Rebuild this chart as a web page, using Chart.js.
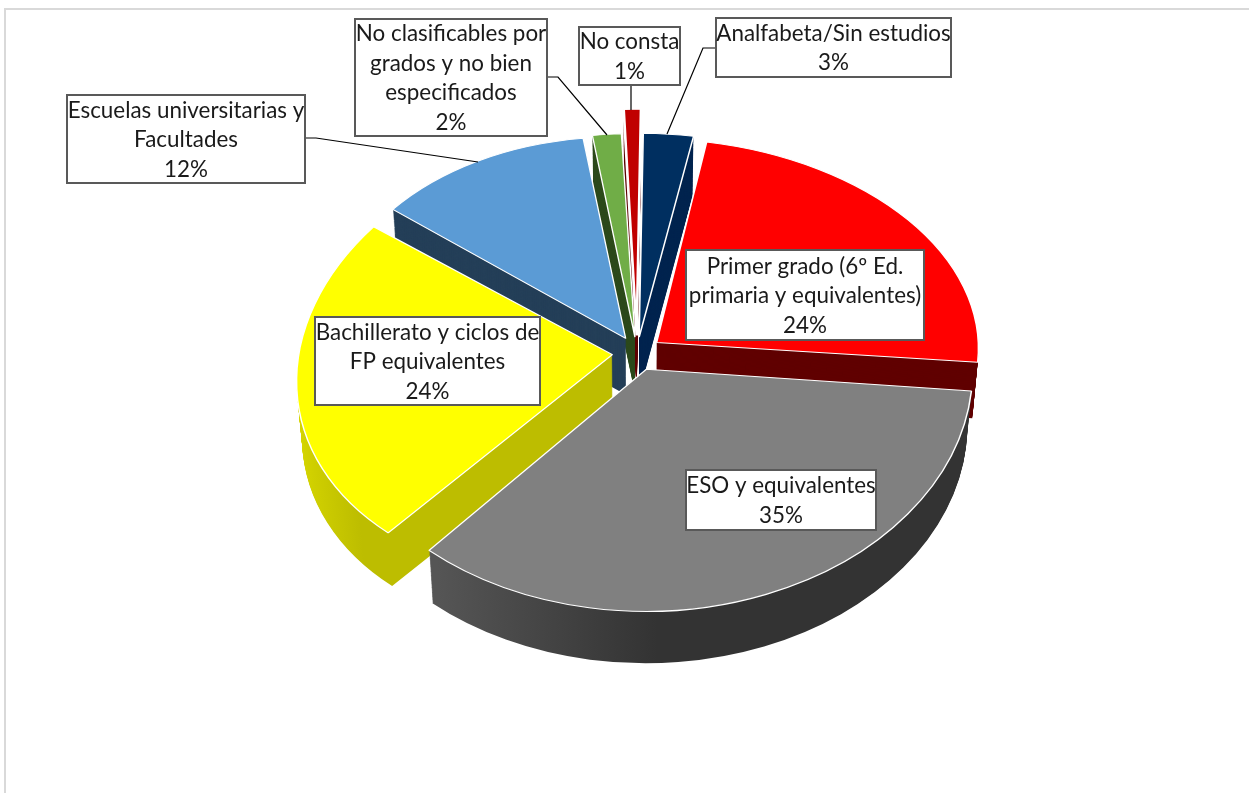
<!DOCTYPE html>
<html>
<head>
<meta charset="utf-8">
<style>
html, body { margin: 0; padding: 0; background: #fff; overflow: hidden; }
</style>
<script src="https://cdn.jsdelivr.net/npm/chart.js@4"></script>
</head>
<body>
<canvas id="pie" width="1249" height="793"></canvas>
<script>
const categories = [
    "Analfabeta/Sin estudios",
    "Primer grado (6º Ed. primaria y equivalentes)",
    "ESO y equivalentes",
    "Bachillerato y ciclos de FP equivalentes",
    "Escuelas universitarias y Facultades",
    "No clasificables por grados y no bien especificados",
    "No consta"
];
const values = [2.6, 23.6, 35.2, 23.8, 12.2, 1.8, 0.8];
const topColors = ["#002f60", "#ff0000", "#808080", "#ffff00", "#5b9bd5", "#70ad47", "#c00000"];
const wallColors = ["#00244f", "#600000", "#333333", "#bdbd00", "#243f58", "#2d4a1c", "#5f0000"];

// view of each slice on the tilted plate (x scale, x shear, y shear, y scale), stands in for perspective
const views = [
    [1.03, 0.016, 0, 0.598],
    [1.005, 0.025, 0.003, 0.637],
    [1.005, 0.004, -0.004, 0.745],
    [0.985, -0.055, -0.044, 0.71],
    [0.905, -0.005, 0.02, 0.615],
    [0.92, 0, 0, 0.595],
    [1.78, -0.001, 0, 0.658]
];

const labelLines = [
    ["Analfabeta/Sin estudios"],
    ["Primer grado (6º Ed.", "primaria y equivalentes)"],
    ["ESO y equivalentes"],
    ["Bachillerato y ciclos de", "FP equivalentes"],
    ["Escuelas universitarias y", "Facultades"],
    ["No clasificables por", "grados y no bien", "especificados"],
    ["No consta"]
];
// x, y, w, h of each label box
const labelBoxes = [
    [716, 18, 235, 59],
    [686, 250, 238, 90],
    [686, 470, 190, 60],
    [315, 317, 225, 88],
    [67, 95, 238, 88],
    [355, 19, 192, 117],
    [579, 27, 101, 58]
];
const leaders = [
    [[716, 48], [703, 48], [667, 134]],
    [],
    [],
    [],
    [[305, 138], [316, 138], [478, 162]],
    [[547, 77], [558, 77], [607, 135]],
    [[631, 85], [631, 110]]
];

const pieX = 637, pieY = 352, depth = 56;
const wallOrder = [0, 6, 5, 4, 1, 3, 2];

const total = values.reduce((a, b) => a + b, 0);

function placeSlice(ctx, arc, i, drop) {
    const v = views[i];
    const shrink = 1 - 0.016 * drop / depth;
    ctx.translate(pieX, pieY + drop);
    ctx.scale(shrink, shrink);
    ctx.transform(v[0], v[2], v[1], v[3], 0, 0);
    ctx.translate(-arc.x, -arc.y);
}

function wallFill(ctx, arc, i) {
    if (i === 2) {
        const g = ctx.createLinearGradient(arc.x - 210, 0, arc.x + 10, 0);
        g.addColorStop(0, "#555555");
        g.addColorStop(1, "#333333");
        return g;
    }
    if (i === 3) {
        const g = ctx.createLinearGradient(arc.x - 340, 0, arc.x - 245, 0);
        g.addColorStop(0, "#dcdc00");
        g.addColorStop(1, "#bdbd00");
        return g;
    }
    return wallColors[i];
}

const pie3d = {
    id: 'pie3d',
    beforeDraw(chart) {
        const ctx = chart.ctx;
        ctx.save();
        ctx.strokeStyle = "#d9d9d9";
        ctx.lineWidth = 2;
        ctx.beginPath();
        ctx.moveTo(5, 793);
        ctx.lineTo(5, 9);
        ctx.lineTo(1249, 9);
        ctx.stroke();
        ctx.restore();
    },
    beforeDatasetsDraw(chart) {
        const ctx = chart.ctx;
        const arcs = chart.getDatasetMeta(0).data;
        // side walls, stacked from the bottom up
        wallOrder.forEach(i => {
            const arc = arcs[i];
            const own = arc.options;
            arc.options = Object.assign({}, own, {backgroundColor: wallFill(ctx, arc, i), borderWidth: 0});
            for (let d = depth; d > 0; d--) {
                ctx.save();
                placeSlice(ctx, arc, i, d);
                arc.draw(ctx);
                ctx.restore();
            }
            arc.options = own;
        });
        arcs.forEach((arc, i) => {
            ctx.save();
            placeSlice(ctx, arc, i, 0);
            arc.draw(ctx);
            ctx.restore();
        });
        return false;
    },
    afterDraw(chart) {
        const ctx = chart.ctx;
        ctx.save();
        ctx.strokeStyle = "#000";
        ctx.lineWidth = 1.2;
        leaders.forEach(pts => {
            if (!pts.length) return;
            ctx.beginPath();
            pts.forEach((p, k) => k ? ctx.lineTo(p[0], p[1]) : ctx.moveTo(p[0], p[1]));
            ctx.stroke();
        });
        ctx.font = '22.4px Lato';
        ctx.textAlign = 'center';
        ctx.textBaseline = 'middle';
        labelBoxes.forEach((b, i) => {
            ctx.fillStyle = "#fff";
            ctx.fillRect(b[0], b[1], b[2], b[3]);
            ctx.strokeStyle = "#595959";
            ctx.lineWidth = 2;
            ctx.strokeRect(b[0], b[1], b[2], b[3]);
            ctx.fillStyle = "#1a1a1a";
            const lines = labelLines[i].concat(Math.round(values[i] / total * 100) + "%");
            const step = 29.5;
            const first = b[1] + b[3] / 2 - step * (lines.length - 1) / 2 + 1;
            lines.forEach((t, k) => ctx.fillText(t, b[0] + b[2] / 2, first + k * step));
        });
        ctx.restore();
    }
};

new Chart(document.getElementById("pie"), {
    type: 'pie',
    data: {
        labels: categories,
        datasets: [{
            data: values,
            backgroundColor: topColors,
            borderColor: "#ffffff",
            borderWidth: 1.5,
            offset: 100,
            radius: 320
        }]
    },
    options: {
        responsive: false,
        animation: false,
        rotation: 1,
        plugins: {
            legend: { display: false },
            tooltip: { enabled: false }
        }
    },
    plugins: [pie3d]
});
</script>
</body>
</html>
